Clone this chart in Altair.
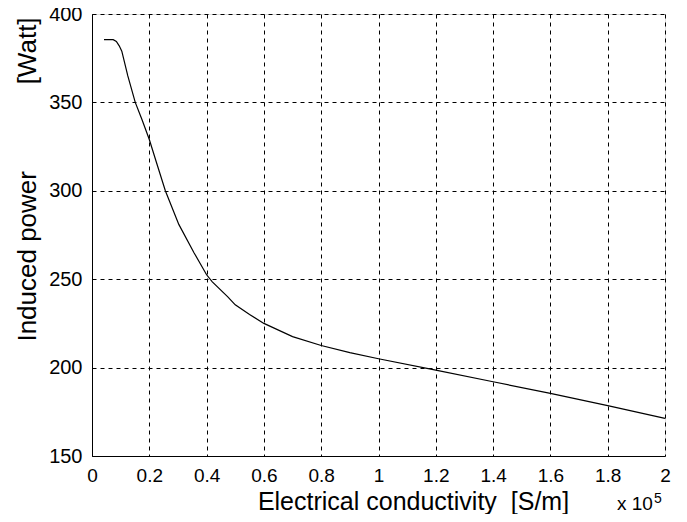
import altair as alt
import pandas as pd

# Electrical conductivity (x 10^5 S/m) and induced power (W)
conductivity = [0.042, 0.074, 0.085, 0.095, 0.104, 0.125, 0.151, 0.175, 0.2, 0.225,
                0.256, 0.303, 0.356, 0.40, 0.42, 0.474, 0.5, 0.55, 0.6, 0.7,
                0.8, 0.9, 1.0, 1.2, 1.4, 1.6, 1.8, 2.0]
power = [385.5, 385.5, 384.5, 382.0, 379.0, 365.0, 350.0, 340.0, 329.0, 316.0,
         300.0, 281.0, 265.0, 252.5, 248.5, 240.0, 235.5, 230.0, 225.0, 217.5,
         212.5, 208.5, 205.0, 198.6, 192.0, 185.4, 178.5, 171.3]

x_ticks = [0, 0.2, 0.4, 0.6, 0.8, 1.0, 1.2, 1.4, 1.6, 1.8, 2.0]
y_ticks = [150, 200, 250, 300, 350, 400]

x_title = "Electrical conductivity\u00a0\u00a0[S/m]"
y_title = "Induced power" + "\u00a0" * 12 + "[Watt]"
exponent_base = "x 10"
exponent_power = "5"

df = pd.DataFrame({"x": conductivity, "y": power})

FONT = "Liberation Sans"

x_enc = alt.X(
    "x:Q",
    scale=alt.Scale(domain=[0, 2], nice=False, zero=False),
    axis=alt.Axis(
        values=x_ticks, format="~g", title=x_title,
        grid=True, gridColor="black", gridDash=[4, 4], gridWidth=1, gridOpacity=1,
        domainColor="black", domainWidth=1, ticks=False,
        labelFont=FONT, labelFontSize=19, labelColor="black", labelPadding=10,
        labelFlush=False, labelOverlap=False,
        titleFont=FONT, titleFontSize=25, titleFontWeight="normal", titleColor="black",
        titleBaseline="alphabetic", titleX=321, titleY=53,
    ),
)
y_enc = alt.Y(
    "y:Q",
    scale=alt.Scale(domain=[150, 400], nice=False, zero=False),
    axis=alt.Axis(
        values=y_ticks, format="d", title=y_title,
        grid=True, gridColor="black", gridDash=[4, 4], gridWidth=1, gridOpacity=1,
        domainColor="black", domainWidth=1, ticks=False,
        labelFont=FONT, labelFontSize=20, labelColor="black", labelPadding=10,
        labelFlush=False, labelOverlap=False,
        titleFont=FONT, titleFontSize=26, titleFontWeight="normal", titleColor="black",
        titlePadding=8, titleY=165,
    ),
)

line = alt.Chart(df).mark_line(color="black", strokeWidth=1.2).encode(x=x_enc, y=y_enc)

expo_base = alt.Chart(pd.DataFrame({"t": [exponent_base]})).mark_text(
    font=FONT, fontSize=19, color="black", align="left", baseline="alphabetic", dx=-48, dy=54
).encode(x=alt.datum(2.0), y=alt.datum(150), text="t:N")

expo_pow = alt.Chart(pd.DataFrame({"t": [exponent_power]})).mark_text(
    font=FONT, fontSize=14, color="black", align="left", baseline="alphabetic", dx=-11, dy=47
).encode(x=alt.datum(2.0), y=alt.datum(150), text="t:N")

chart = alt.layer(line, expo_base, expo_pow).properties(
    width=573, height=442,
    autosize=alt.AutoSizeParams(type="none"),
    padding={"left": 84, "top": 6, "right": 14, "bottom": 58},
).configure_view(stroke="black", strokeWidth=1).configure(background="white")

chart.save("out.html", embed_options={"renderer": "svg", "actions": False})
